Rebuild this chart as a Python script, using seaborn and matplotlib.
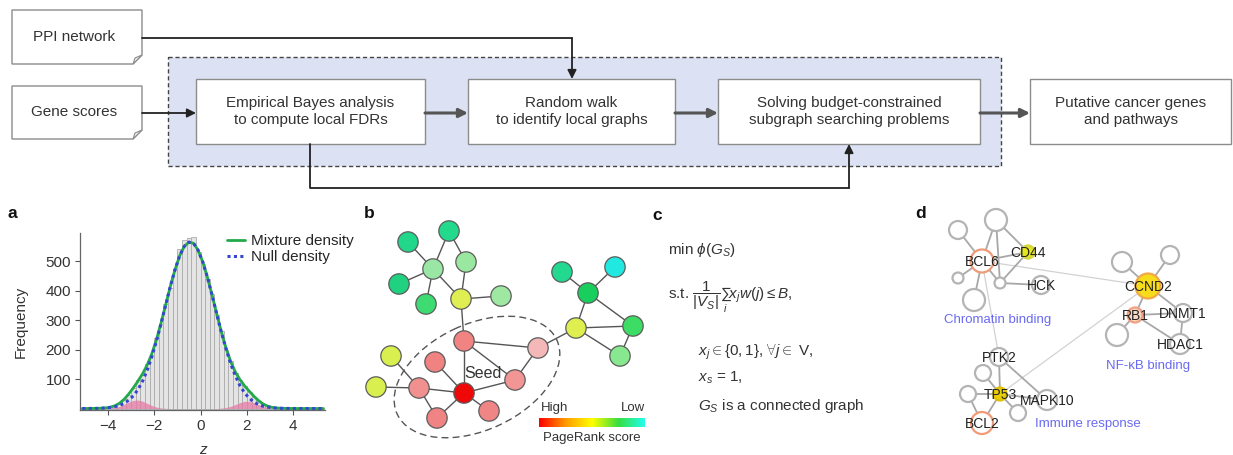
import numpy as np
import seaborn as sns
import matplotlib.pyplot as plt
from matplotlib.patches import Rectangle, Polygon, Ellipse
from matplotlib.colors import LinearSegmentedColormap

# ---- panel a: histogram of z-scores ----
z_mid = np.round(np.arange(-5.1, 5.31, 0.2), 1)
frecuencias = [0, 1, 1, 2, 3, 5, 8, 12, 20, 33, 47, 68, 96, 115, 152, 183, 238, 286, 356, 410,
               474, 540, 572, 578, 580, 530, 490, 438, 388, 318, 262, 200, 160, 121, 96, 75, 57,
               40, 26, 15, 9, 4, 2, 1, 1, 0, 1, 0, 0, 0, 0, 0, 0]
mezcla = [0.1, 0.1, 0.3, 0.5, 1.1, 2.2, 4.5, 9.2, 17.6, 31, 49, 70, 93, 118, 148, 186, 234, 291,
          353, 415, 471, 518, 550, 564, 560, 536, 496, 444, 384, 321, 259, 205, 160, 124, 98, 77,
          59, 42, 27, 15.5, 8, 3.8, 1.7, 0.8, 0.4, 0.2, 0.1, 0, 0, 0, 0, 0, 0]
nula = [0.05, 0.1, 0.3, 0.5, 1.0, 1.9, 3.4, 6.1, 10.4, 17.4, 28, 43, 64, 93, 130, 176, 229, 289,
        352, 415, 471, 518, 550, 564, 560, 536, 496, 444, 384, 320, 258, 202, 152, 111, 78, 53,
        35, 22, 13.6, 8.0, 4.6, 2.5, 1.35, 0.7, 0.35, 0.17, 0.1, 0, 0, 0, 0, 0, 0]
no_nula = [0, 0, 0, 0, 0.1, 0.3, 1.1, 3.1, 7.2, 13.7, 21.5, 27.4, 28.8, 24.9, 17.6, 10.2, 4.9, 1.9,
           0.6, 0, 0, 0, 0, 0, 0, 0, 0, 0, 0, 0, 1.2, 3.4, 7.5, 13.5, 20, 24.4, 24.4, 20, 13.5,
           7.5, 3.4, 1.25, 0.4, 0, 0, 0, 0, 0, 0, 0, 0, 0, 0]
yticks_a = [100, 200, 300, 400, 500]
xticks_a = [-4, -2, 0, 2, 4]

# ---- flowchart ----
cajas = {
    'emp': ('Empirical Bayes analysis\nto compute local FDRs', 196, 79, 425, 144),
    'rw': ('Random walk\nto identify local graphs', 468, 79, 675, 144),
    'sol': ('Solving budget-constrained\nsubgraph searching problems', 718, 79, 980, 144),
    'put': ('Putative cancer genes\nand pathways', 1030, 79, 1231, 144),
}
docs = {'ppi': ('PPI network', 12, 10, 142, 64), 'gene': ('Gene scores', 12, 86, 142, 139)}

# ---- panel b: random walk network ----
b_nodos = ['n1', 'n2', 'n3', 'n4', 'n5', 'n6', 'n7', 'n8', 'r1', 'r2', 'seed', 'r3', 'r4', 'r5',
           'r6', 'r7', 'y1', 'y2', 'g1', 'cy', 'g2', 'y3', 'g3', 'g4']
b_x = [449, 408, 433, 466, 399, 426, 461, 501, 464, 435, 464, 419, 437, 489, 515, 538, 391, 376,
       562, 615, 588, 576, 633, 620]
b_y = [231, 242, 269, 262, 284, 304, 299, 296, 341, 362, 393, 388, 418, 411, 380, 348, 356, 387,
       272, 267, 293, 328, 326, 356]
b_color = ['#22d98c', '#22d68a', '#9ae6a4', '#9ae8a0', '#20d27f', '#3edb72', '#dfee52', '#9fe8a2',
           '#f28383', '#f08282', '#ee0808', '#f29090', '#f08484', '#f08585', '#f29595', '#f5b8b8',
           '#d8ef4f', '#d8ef4f', '#22d98f', '#22e8e2', '#18cf5e', '#e0ef50', '#3ddc65', '#88e890']
b_aristas = [('n1', 'n3'), ('n1', 'n4'), ('n2', 'n3'), ('n3', 'n5'), ('n3', 'n6'), ('n3', 'n7'),
             ('n4', 'n7'), ('n7', 'n8'), ('n7', 'r1'), ('r1', 'seed'), ('r1', 'r7'), ('r1', 'r6'),
             ('seed', 'r6'), ('seed', 'r2'), ('seed', 'r3'), ('seed', 'r5'), ('seed', 'r4'),
             ('r3', 'r4'), ('r3', 'y1'), ('r3', 'y2'), ('r6', 'r7'), ('r7', 'y3'), ('g1', 'g2'),
             ('cy', 'g2'), ('g2', 'y3'), ('g2', 'g3'), ('y3', 'g3'), ('y3', 'g4'), ('g3', 'g4')]

# ---- panel d: cancer modules ----
d_nodos = ['A', 'B', 'BCL6', 'CD44', 'c1', 'c2', 'HCK', 'c3', 'CCND2', 'c4', 'c5', 'RB1', 'DNMT1',
           'c6', 'HDAC1', 'PTK2', 'c7', 'TP53', 'c8', 'MAPK10', 'c9', 'BCL2']
d_x = [996, 958, 982, 1028, 958, 1000, 1041, 974, 1148, 1122, 1170, 1135, 1183, 1117, 1180, 999,
       983, 1000, 968, 1047, 1018, 982]
d_y = [220, 230, 261, 252, 278, 283, 285, 300, 286, 262, 255, 315, 313, 335, 344, 357, 373, 394,
       394, 400, 413, 423]
d_radio = [11, 9, 11.5, 6.5, 5.5, 5.5, 9, 11, 12.5, 10, 9, 7.5, 9, 11, 10, 9, 8, 6.5, 8, 10, 8, 11]
d_relleno = ['white', 'white', 'white', '#e6e61e', 'white', 'white', 'white', 'white', '#f7dc1c',
             'white', 'white', '#f8d8c4', 'white', 'white', 'white', 'white', 'white', '#e9cf08',
             'white', 'white', 'white', 'white']
d_borde = ['#b4b4b4', '#b4b4b4', '#f09a78', '#d4d440', '#b4b4b4', '#b4b4b4', '#b4b4b4', '#b4b4b4',
           '#f0a848', '#b4b4b4', '#b4b4b4', '#f0a080', '#b4b4b4', '#b4b4b4', '#b4b4b4', '#b4b4b4',
           '#b4b4b4', '#e0c000', '#b4b4b4', '#b4b4b4', '#b4b4b4', '#f09a78']
d_etiquetas = ['BCL6', 'CD44', 'HCK', 'CCND2', 'RB1', 'DNMT1', 'HDAC1', 'PTK2', 'TP53', 'MAPK10', 'BCL2']
d_aristas = [('A', 'BCL6'), ('A', 'CD44'), ('A', 'c2'), ('B', 'BCL6'), ('BCL6', 'CD44'),
             ('BCL6', 'c1'), ('BCL6', 'c3'), ('BCL6', 'c2'), ('CD44', 'c2'), ('c2', 'HCK'),
             ('CCND2', 'c4'), ('CCND2', 'c5'), ('CCND2', 'RB1'), ('CCND2', 'DNMT1'),
             ('RB1', 'DNMT1'), ('RB1', 'c6'), ('RB1', 'HDAC1'), ('DNMT1', 'HDAC1'),
             ('PTK2', 'TP53'), ('PTK2', 'MAPK10'), ('TP53', 'c7'), ('TP53', 'c8'),
             ('TP53', 'MAPK10'), ('TP53', 'c9'), ('TP53', 'BCL2'), ('BCL2', 'c8')]
d_largas = [('BCL6', 'CCND2'), ('BCL6', 'PTK2'), ('CCND2', 'TP53')]
d_modulos = [('Chromatin binding', 998, 320), ('NF-\u03baB binding', 1148, 366),
             ('Immune response', 1088, 424)]

sns.set_theme(style='white')
plt.rcParams['font.family'] = ['Liberation Sans', 'DejaVu Sans']
plt.rcParams['mathtext.fontset'] = 'custom'
plt.rcParams['mathtext.rm'] = 'Liberation Sans'
plt.rcParams['mathtext.it'] = 'Liberation Sans:italic'
plt.rcParams['mathtext.bf'] = 'Liberation Sans:bold'

fig = plt.figure(figsize=(12.33, 4.55), dpi=100)
lienzo = fig.add_axes([0, 0, 1, 1])
lienzo.axis('off')
txt = '#333333'

# flowchart
lienzo.add_patch(Rectangle((168, 57), 1001 - 168, 166 - 57, fc='#dce2f4', ec='#444444',
                           lw=1, ls=(0, (3, 2))))
for nombre, (texto, x0, y0, x1, y1) in cajas.items():
    lienzo.add_patch(Rectangle((x0, y0), x1 - x0, y1 - y0, fc='white', ec='#8c8c8c', lw=1))
    lienzo.text((x0 + x1) / 2, (y0 + y1) / 2, texto, ha='center', va='center', fontsize=11,
                color=txt, linespacing=1.35)
for nombre, (texto, x0, y0, x1, y1) in docs.items():
    f = 9
    lienzo.add_patch(Polygon([(x0, y0), (x1, y0), (x1, y1 - f), (x1 - f, y1), (x0, y1)],
                             closed=True, fc='white', ec='#8c8c8c', lw=1))
    lienzo.add_patch(Polygon([(x1, y1 - f), (x1 - f, y1), (x1 - f + 2, y1 - f + 3)],
                             closed=True, fc='#eeeeee', ec='#8c8c8c', lw=0.8))
    lienzo.text((x0 + x1) / 2 - 3, (y0 + y1) / 2, texto, ha='center', va='center', fontsize=11,
                color=txt)


def flecha(p0, p1, lw=1.3, color='#222222'):
    lienzo.annotate('', xy=p1, xytext=p0,
                    arrowprops=dict(arrowstyle='-|>', color=color, lw=lw, mutation_scale=13,
                                    shrinkA=0, shrinkB=0))


lienzo.plot([142, 572], [38, 38], color='#222222', lw=1.3)
flecha((572, 38), (572, 79))
flecha((142, 113), (196, 113))
flecha((425, 113), (468, 113), lw=2.2, color='#555555')
flecha((675, 113), (718, 113), lw=2.2, color='#555555')
flecha((980, 113), (1030, 113), lw=2.2, color='#555555')
lienzo.plot([310, 310, 849], [144, 188, 188], color='#222222', lw=1.3)
flecha((849, 188), (849, 144))

# panel labels
for letra, x, y in [('a', 8, 213), ('b', 364, 213), ('c', 652, 216), ('d', 915, 213)]:
    lienzo.text(x, y, letra, fontsize=12.5, fontweight='bold', ha='left', va='center', color='#111')

# panel b
bpos = dict(zip(b_nodos, zip(b_x, b_y)))
lienzo.add_patch(Ellipse((477, 377), 176, 106, angle=-25, fill=False, ec='#555555', lw=1,
                         ls=(0, (5, 3))))
for u, v in b_aristas:
    lienzo.plot([bpos[u][0], bpos[v][0]], [bpos[u][1], bpos[v][1]], color='#555555', lw=1, zorder=2)
sns.scatterplot(x=b_x, y=b_y, hue=b_nodos, palette=dict(zip(b_nodos, b_color)), s=215,
                edgecolor='#5c5c5c', linewidth=0.9, legend=False, ax=lienzo, zorder=3)
lienzo.text(483, 373, 'Seed', fontsize=11.5, color=txt, ha='center', va='center', zorder=4)
pr_cmap = LinearSegmentedColormap.from_list('pr', ['#ff0000', '#ff9a00', '#ffff00', '#38dd40', '#22ffee'])
lienzo.imshow(np.linspace(0, 1, 256)[None, :], extent=(539, 645, 427, 418), cmap=pr_cmap,
              aspect='auto', zorder=3)
lienzo.text(541, 408, 'High', fontsize=9.5, color=txt, ha='left', va='center')
lienzo.text(645, 408, 'Low', fontsize=9.5, color=txt, ha='right', va='center')
lienzo.text(592, 438, 'PageRank score', fontsize=9.5, color=txt, ha='center', va='center')

# panel c
lienzo.text(668, 250, r'min $\phi(G_S)$', fontsize=11, color=txt, va='center')
lienzo.text(668, 297, r's.t. $\dfrac{1}{|V_S|}\sum_{i} x_j w(j) \leq B$,', fontsize=11, color=txt,
            va='center')
lienzo.text(698, 352, r'$x_j \in \{0,1\}$, $\forall j \in$ V,', fontsize=11, color=txt, va='center')
lienzo.text(698, 378, r'$x_s$ = 1,', fontsize=11, color=txt, va='center')
lienzo.text(698, 406, r'$G_S$ is a connected graph', fontsize=11, color=txt, va='center')

# panel d
dpos = dict(zip(d_nodos, zip(d_x, d_y)))
for u, v in d_largas:
    lienzo.plot([dpos[u][0], dpos[v][0]], [dpos[u][1], dpos[v][1]], color='#d2d2d2', lw=0.9, zorder=2)
for u, v in d_aristas:
    lienzo.plot([dpos[u][0], dpos[v][0]], [dpos[u][1], dpos[v][1]], color='#a8a8a8', lw=1.3, zorder=2)
sns.scatterplot(x=d_x, y=d_y, hue=d_nodos, palette=dict(zip(d_nodos, d_relleno)),
                size=d_nodos, sizes={n: (1.44 * r) ** 2 for n, r in zip(d_nodos, d_radio)},
                edgecolor=d_borde, linewidth=1.6, legend=False, ax=lienzo, zorder=3)
for n in d_etiquetas:
    lienzo.text(dpos[n][0], dpos[n][1] + 1, n, fontsize=10, color='#222222', ha='center',
                va='center', zorder=4)
for texto, x, y in d_modulos:
    lienzo.text(x, y, texto, fontsize=9.5, color='#6a6af0', ha='center', va='center')

lienzo.set_xlim(0, 1233)
lienzo.set_ylim(455, 0)

# panel a
ax = fig.add_axes([80 / 1233, 45 / 455, 245 / 1233, 177 / 455])
sns.histplot(x=z_mid, weights=frecuencias, binwidth=0.2, binrange=(-5.2, 5.4), color='#e4e4e4',
             edgecolor='#ababab', linewidth=0.6, alpha=1, ax=ax)
ax.fill_between(z_mid, no_nula, color='#e67aa6', alpha=0.75, lw=0)
sns.lineplot(x=z_mid, y=mezcla, color='#22aa4a', lw=2, label='Mixture density', ax=ax)
sns.lineplot(x=z_mid, y=nula, color='#3546d0', lw=2.2, ls=(0, (1, 1.1)), label='Null density', ax=ax)
ax.set_xlim(-5.2, 5.37)
ax.set_ylim(-5, 595)
ax.set_xticks(xticks_a)
ax.set_yticks(yticks_a)
ax.tick_params(axis='both', labelsize=11, length=3.5, width=0.8, color='#555555',
               labelcolor=txt, direction='out', bottom=True, left=True, pad=3)
sns.despine(ax=ax)
for s in ['left', 'bottom']:
    ax.spines[s].set_color('#666666')
    ax.spines[s].set_linewidth(0.9)
ax.set_ylabel('Frequency', fontsize=11, color=txt)
ax.set_xlabel('z', fontsize=11, color=txt, style='italic')
ax.yaxis.set_label_coords(-0.215, 0.5)
ax.xaxis.set_label_coords(0.5, -0.185)
ax.legend(loc='upper left', bbox_to_anchor=(0.6, 0.995), frameon=False, fontsize=11,
          handlelength=1.2, handletextpad=0.4, borderaxespad=0, borderpad=0, labelspacing=0.15)

fig.savefig('out.png', dpi=100)
